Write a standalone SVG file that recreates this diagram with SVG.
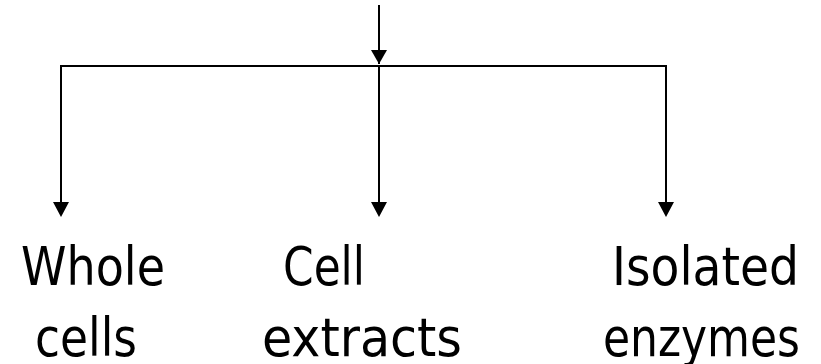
<svg xmlns="http://www.w3.org/2000/svg" width="821" height="364" viewBox="0 0 821 364">
<defs>
<style>
.ln{stroke:#000;stroke-width:2;fill:none}
.lbl{font-family:"DejaVu Sans Condensed","DejaVu Sans",sans-serif;font-size:54px;fill:#000}
</style>
<marker id="ah" markerWidth="16" markerHeight="15" refX="8" refY="14" orient="auto-start-reverse" markerUnits="userSpaceOnUse" viewBox="0 0 16 15">
<path d="M0,0 L16,0 L8,15 Z" fill="#000"/>
</marker>
</defs>
<rect width="821" height="364" fill="#fff"/>
<g id="connectors">
<line class="ln" x1="379" y1="5" x2="379" y2="64"/>
<path d="M371,50 L387,50 L379,64 Z" fill="#000"/>
<line class="ln" x1="61" y1="66" x2="667" y2="66"/>
<line class="ln" x1="61" y1="65" x2="61" y2="204"/>
<path d="M53,202 L69,202 L61,217 Z" fill="#000"/>
<line class="ln" x1="379" y1="65" x2="379" y2="204"/>
<path d="M371,202 L387,202 L379,217 Z" fill="#000"/>
<line class="ln" x1="666" y1="65" x2="666" y2="204"/>
<path d="M658,202 L674,202 L666,217 Z" fill="#000"/>
</g>
<g id="node-whole-cells">
<text class="lbl" x="21" y="285" textLength="144" lengthAdjust="spacingAndGlyphs">Whole</text>
<text class="lbl" x="35" y="356" textLength="102" lengthAdjust="spacingAndGlyphs">cells</text>
</g>
<g id="node-cell-extracts">
<text class="lbl" x="283" y="285" textLength="82" lengthAdjust="spacingAndGlyphs">Cell</text>
<text class="lbl" x="262" y="356" textLength="200" lengthAdjust="spacingAndGlyphs">extracts</text>
</g>
<g id="node-isolated-enzymes">
<text class="lbl" x="612" y="285" textLength="187" lengthAdjust="spacingAndGlyphs">Isolated</text>
<text class="lbl" x="603" y="356" textLength="197" lengthAdjust="spacingAndGlyphs">enzymes</text>
</g>
</svg>
